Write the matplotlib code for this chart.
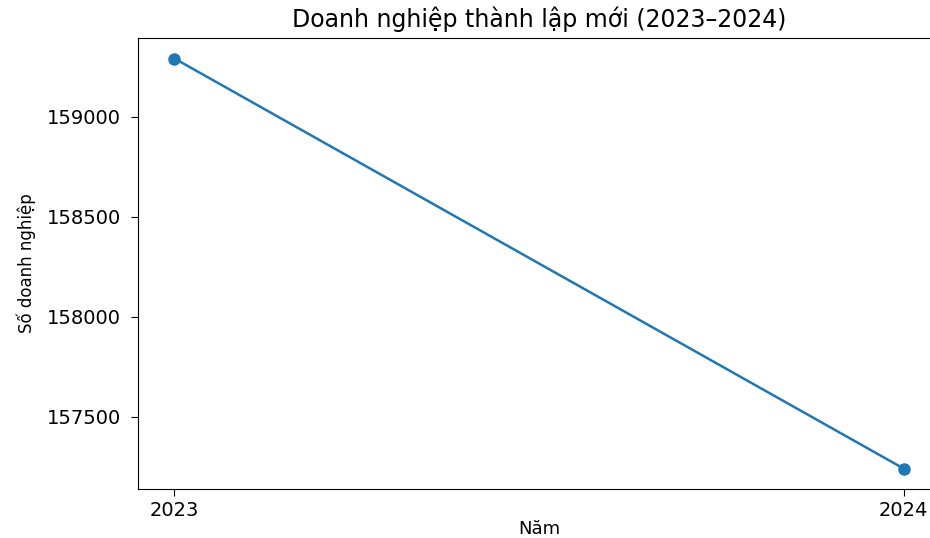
import matplotlib
matplotlib.use("Agg")
import matplotlib.pyplot as plt

years = [2023, 2024]
year_labels = ["2023", "2024"]
new_firms = [159290, 157240]

y_ticks = [157500, 158000, 158500, 159000]

fig = plt.figure(figsize=(9.3, 5.38), dpi=100)
# axes run slightly past the right edge, like the reference crop
ax = fig.add_axes([138 / 930, 49 / 538, 802 / 930, 451 / 538])

ax.plot(years, new_firms, color="#1f77b4", linewidth=1.8,
        marker="o", markersize=8)

ax.set_xticks(years)
ax.set_xticklabels(year_labels)
ax.set_yticks(y_ticks)
ax.tick_params(axis="both", labelsize=14, length=5)
ax.tick_params(axis="y", pad=7)

ax.set_title("Doanh nghiệp thành lập mới (2023–2024)", fontsize=17, pad=8)
ax.set_xlabel("Năm", fontsize=13, labelpad=0)
ax.set_ylabel("Số doanh nghiệp", fontsize=12, labelpad=8)

fig.savefig("out.png", dpi=100)
